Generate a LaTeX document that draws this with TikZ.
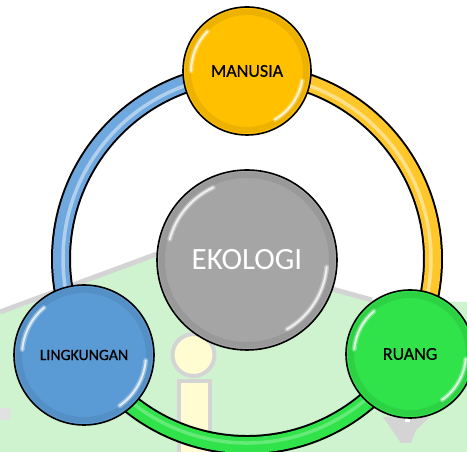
\documentclass[tikz,border=0pt]{standalone}
\usepackage{fontspec}
\setmainfont{Carlito}
\newfontfamily\labelfont[FakeBold=0.6]{Carlito}
\definecolor{bggreen}{HTML}{CFF3CF}
\definecolor{bggray}{HTML}{D4D4D4}
\definecolor{paleyellow}{HTML}{FFFCD2}
\definecolor{manusia}{HTML}{FFC000}
\definecolor{ringyellow}{HTML}{FFC72A}
\definecolor{lingblue}{HTML}{5B9BD5}
\definecolor{ringblue}{HTML}{6FA8DE}
\definecolor{ruanggreen}{HTML}{30E34A}
\definecolor{ekogray}{HTML}{A5A5A5}
\begin{document}
\begin{tikzpicture}[x=1pt,y=1pt,
  nodecirc/.style={circle, draw=black, line width=1.6pt, inner sep=0pt, text=black, font=\labelfont\fontsize{18}{20}\selectfont},
  glosswide/.style={white, line width=5pt, line cap=round, opacity=0.3},
  glossthin/.style={white, line width=2pt, line cap=round, opacity=0.75},
  rimshade/.style={black, line width=6pt, opacity=0.07},
  ringout/.style={black, line width=20pt},
  ringhl/.style={white, line width=3.5pt, opacity=0.45},
]
\useasboundingbox (0,0) rectangle (467,452);
\fill[white] (0,0) rectangle (467,452);
% background watermark
\fill[bggreen] (0,140) -- (157,198) -- (337,162) -- (372,152) -- (467,150) -- (467,0) -- (0,0) -- cycle;
\draw[bggray, line width=5pt] (0,140) -- (157,198);
\draw[bggray, line width=5pt] (332,163) -- (372,152);
\filldraw[fill=paleyellow, draw=bggray, line width=4pt] (179,-5) rectangle (210,71);
\filldraw[fill=paleyellow, draw=bggray, line width=4pt] (193.5,97) circle[radius=21pt];
\fill[bggray] (383,35) -- (430,35) -- (416,22) -- (411,9) -- (401,9) -- (392,22) -- cycle;
\fill[white] (405,30) rectangle (410,35);
\fill[bggray!70] (0,32) rectangle (10,44);
% ring
\coordinate (O) at (247,193);
\draw[ringout] (O) ++(90:186) arc[start angle=90, end angle=-30, radius=186pt];
\draw[ringout] (O) ++(90:186) arc[start angle=90, end angle=210, radius=186pt];
\draw[ringout] (O) ++(210:186) arc[start angle=210, end angle=330, radius=186pt];
\draw[ringyellow, line width=16pt] (O) ++(90:186) arc[start angle=90, end angle=-30, radius=186pt];
\draw[ringblue, line width=16pt] (O) ++(90:186) arc[start angle=90, end angle=210, radius=186pt];
\draw[ruanggreen, line width=16pt] (O) ++(210:186) arc[start angle=210, end angle=330, radius=186pt];
\draw[ringhl] (O) ++(90:184) arc[start angle=90, end angle=-30, radius=184pt];
\draw[ringhl] (O) ++(90:184) arc[start angle=90, end angle=210, radius=184pt];
\draw[ringhl, opacity=0.25] (O) ++(210:184) arc[start angle=210, end angle=330, radius=184pt];
% nodes
\node[nodecirc, fill=ekogray, minimum size=180pt, text=white, font=\fontsize{31}{34}\selectfont] (e) at (247,192) {EKOLOGI};
\node[nodecirc, fill=manusia, minimum size=128pt] (m) at (247,381) {MANUSIA};
\node[nodecirc, fill=lingblue, minimum size=140pt, font=\labelfont\fontsize{15.8}{18}\selectfont] (l) at (84,97) {LINGKUNGAN};
\node[nodecirc, fill=ruanggreen, minimum size=128pt] (r) at (410,98) {RUANG};
% gloss
\draw[rimshade] (e.center) circle[radius=85pt];
\draw[glosswide] (e.center) ++(165:80) arc[start angle=165, end angle=115, radius=80pt];
\draw[glossthin] (e.center) ++(165:80) arc[start angle=165, end angle=115, radius=80pt];
\draw[glosswide] (e.center) ++(-5:80) arc[start angle=-5, end angle=-60, radius=80pt];
\draw[glossthin] (e.center) ++(-5:80) arc[start angle=-5, end angle=-60, radius=80pt];
\draw[rimshade] (m.center) circle[radius=59pt];
\draw[glosswide] (m.center) ++(180:56) arc[start angle=180, end angle=135, radius=56pt];
\draw[glossthin] (m.center) ++(180:56) arc[start angle=180, end angle=135, radius=56pt];
\draw[glosswide] (m.center) ++(-10:56) arc[start angle=-10, end angle=-60, radius=56pt];
\draw[glossthin] (m.center) ++(-10:56) arc[start angle=-10, end angle=-60, radius=56pt];
\draw[rimshade] (l.center) circle[radius=65pt];
\draw[glosswide] (l.center) ++(175:62) arc[start angle=175, end angle=130, radius=62pt];
\draw[glossthin] (l.center) ++(175:62) arc[start angle=175, end angle=130, radius=62pt];
\draw[glosswide] (l.center) ++(-5:62) arc[start angle=-5, end angle=-55, radius=62pt];
\draw[glossthin] (l.center) ++(-5:62) arc[start angle=-5, end angle=-55, radius=62pt];
\draw[rimshade] (r.center) circle[radius=59pt];
\draw[glosswide] (r.center) ++(175:56) arc[start angle=175, end angle=130, radius=56pt];
\draw[glossthin] (r.center) ++(175:56) arc[start angle=175, end angle=130, radius=56pt];
\draw[glosswide] (r.center) ++(-5:56) arc[start angle=-5, end angle=-55, radius=56pt];
\draw[glossthin] (r.center) ++(-5:56) arc[start angle=-5, end angle=-55, radius=56pt];
\end{tikzpicture}
\end{document}
